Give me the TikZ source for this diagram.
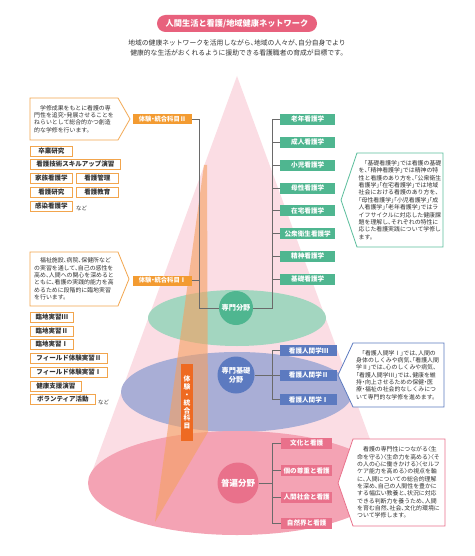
\documentclass[tikz,border=0pt]{standalone}
\usepackage{fontspec}
\setmainfont{Noto Sans CJK JP}[RawFeature=+halt]
\definecolor{titlepink}{HTML}{E8617D}
\definecolor{conepink}{HTML}{FBDDE4}
\definecolor{gell}{HTML}{A3D6C0}
\definecolor{gfill}{HTML}{4FB690}
\definecolor{gline}{HTML}{5BBE9C}
\definecolor{bell}{HTML}{A9AED6}
\definecolor{bfill}{HTML}{5C7AC0}
\definecolor{pell}{HTML}{F4A3B4}
\definecolor{pfill}{HTML}{E9718B}
\definecolor{olab}{HTML}{F39B31}
\definecolor{vorange}{HTML}{EE6A22}
\definecolor{band}{HTML}{F5A060}
\definecolor{oline}{HTML}{F2A54D}
\definecolor{txtgray}{HTML}{333333}
\definecolor{conngray}{HTML}{6A6A6A}
\begin{document}
\begin{tikzpicture}[x=1pt,y=-1pt,
  titlepill/.style={fill=titlepink,rounded corners=8.5pt,minimum width=160pt,minimum height=17pt,inner sep=0pt,text=white,font=\bfseries\fontsize{8.2}{9}\selectfont},
  subtext/.style={align=center,text=txtgray,font=\fontsize{6.8}{10}\selectfont,inner sep=0pt},
  desc/.style={align=left,text=txtgray,font=\fontsize{5.9}{7.35}\selectfont,inner sep=0pt,anchor=west},
  cbox/.style={draw=oline,line width=0.7pt,fill=white,text=txtgray,font=\bfseries\fontsize{6.5}{7}\selectfont,minimum height=10pt,inner sep=0pt,anchor=west},
  olabel/.style={fill=olab,text=white,font=\bfseries\fontsize{6.3}{7}\selectfont,minimum width=59pt,minimum height=10pt,inner sep=0pt},
  vlabel/.style={fill=vorange,text=white,font=\bfseries\fontsize{6.8}{7.9}\selectfont,minimum width=12pt,minimum height=77pt,inner sep=0pt,align=center},
  lbox/.style={text=white,font=\bfseries\fontsize{6.6}{7}\selectfont,minimum height=11pt,inner sep=0pt,anchor=west},
  gbox/.style={lbox,fill=gfill,minimum width=55pt},
  bbox/.style={lbox,fill=bfill,minimum width=57pt},
  pbox/.style={lbox,fill=pfill,minimum width=51pt},
  circ/.style={circle,inner sep=0pt,text=white,align=center,font=\bfseries\fontsize{7.2}{9}\selectfont},
  nado/.style={text=txtgray,font=\fontsize{5.5}{6}\selectfont,inner sep=0pt,anchor=west},
  conn/.style={draw=conngray,line width=0.8pt},
  arrowbox/.style={line width=0.8pt,fill=white}
]
\fill[white] (0,0) rectangle (474,556);
\useasboundingbox (0,0) rectangle (474,556);

% title
\node[titlepill] (title) at (237,23.5) {人間生活と看護/地域健康ネットワーク};
\node[subtext] (sub) at (237,48) {地域の健康ネットワークを活用しながら、地域の人々が、自分自身でより\\健康的な生活がおくれるように援助できる看護職者の育成が目標です。};

% cone and ellipses
\fill[conepink] (237,76) -- (88,483) -- (386,483) -- cycle;
\fill[gell] (237,318) ellipse [x radius=89pt, y radius=28pt];
\fill[bell] (237,392) ellipse [x radius=116pt, y radius=40pt];
\fill[pell] (237,483) ellipse [x radius=149pt, y radius=52pt];
% orange band
\fill[band,opacity=0.6] (204,165) -- (207,165) -- (208,432) -- (155,522) -- cycle;

% connectors
\coordinate (lx) at (199,0);
\coordinate (rx) at (272,0);

% left labels
\node[olabel] (t2) at (162.5,119) {体験・統合科目Ⅱ};
\node[olabel] (t1) at (162.5,280.5) {体験・統合科目Ⅰ};

% circles
\node[circ,fill=gfill,minimum size=34pt] (cg) at (236,308) {専門分野};
\node[circ,fill=bfill,minimum size=37pt] (cb) at (236,375) {専門基礎\\分野};
\node[circ,fill=pfill,minimum size=41pt,font=\bfseries\fontsize{8.5}{10}\selectfont] (cp) at (238,483) {普遍分野};

% green boxes
\node[gbox] (g1) at (280,119.3) {老年看護学};
\node[gbox] (g2) at (280,142.3) {成人看護学};
\node[gbox] (g3) at (280,165.1) {小児看護学};
\node[gbox] (g4) at (280,188) {母性看護学};
\node[gbox] (g5) at (280,210.8) {在宅看護学};
\node[gbox] (g6) at (280,233.5) {公衆衛生看護学};
\node[gbox] (g7) at (280,256.3) {精神看護学};
\node[gbox] (g8) at (280,279.2) {基礎看護学};

% blue boxes
\node[bbox] (b3) at (280,350.5) {看護人間学Ⅲ};
\node[bbox] (b2) at (280,375) {看護人間学Ⅱ};
\node[bbox] (b1) at (280,399.5) {看護人間学Ⅰ};

% pink boxes
\node[pbox] (p1) at (281,443) {文化と看護};
\node[pbox] (p2) at (281,470.5) {個の尊重と看護};
\node[pbox] (p3) at (281,497) {人間社会と看護};
\node[pbox] (p4) at (281,523) {自然界と看護};

\draw[conn] (t2.east) -- (t2.east -| lx) -- (cg.west -| lx) -- (cg.west);
\draw[conn] (t1.east) -- (t1.east -| lx);
\draw[conn] (cg.east) -- (cg.east -| rx) -- (g1.west -| rx) -- (g1.west);
\foreach \i in {2,...,8} {\draw[conn] (g\i.west -| rx) -- (g\i.west);}
\draw[conn] (cb.east) -- (cb.east -| rx);
\draw[conn] (b3.west) -- (b3.west -| rx) -- (b1.west -| rx) -- (b1.west);
\draw[conn] (b2.west -| rx) -- (b2.west);
\draw[conn] (cp.east) -- (cp.east -| rx);
\draw[conn] (p1.west) -- (p1.west -| rx) -- (p4.west -| rx) -- (p4.west);
\draw[conn] (p2.west -| rx) -- (p2.west);
\draw[conn] (p3.west -| rx) -- (p3.west);

% vertical label
\node[vlabel] (vl) at (187,402.5) {体\\験\\・\\統\\合\\科\\目};

% left description boxes
\draw[arrowbox,draw=oline] (30,98) -- (118,98) -- (130,119) -- (118,140) -- (30,140) -- cycle;
\node[desc] (d1) at (34,119) {\hspace*{1em}学修成果をもとに看護の専\\門性を追究・発展させることを\\ねらいとして総合的かつ創造\\的な学修を行います。};
\draw[arrowbox,draw=oline] (30,252) -- (118,252) -- (129,279) -- (118,306) -- (30,306) -- cycle;
\node[desc] (d2) at (34,279) {\hspace*{1em}福祉施設、病院、保健所など\\の実習を通して、自己の感性を\\高め、人間への関心を深めると\\ともに、看護の実践的能力を高\\めるために段階的に臨地実習\\を行います。};

% left course boxes
\node[cbox,minimum width=42pt] (k1) at (30,151) {卒業研究};
\node[cbox,minimum width=90pt] (k2) at (30,164.5) {看護技術スキルアップ演習};
\node[cbox,minimum width=42pt] (k3) at (30,178) {家族看護学};
\node[cbox,minimum width=42pt] (k4) at (76,178) {看護管理};
\node[cbox,minimum width=42pt] (k5) at (30,192) {看護研究};
\node[cbox,minimum width=42pt] (k6) at (76,192) {看護教育};
\node[cbox,minimum width=42pt] (k7) at (30,206) {感染看護学};
\node[nado] (n1) at (76,208) {など};

\node[cbox,minimum width=43pt] (r1) at (30,317) {臨地実習Ⅲ};
\node[cbox,minimum width=43pt] (r2) at (30,331) {臨地実習Ⅱ};
\node[cbox,minimum width=43pt] (r3) at (30,344.5) {臨地実習Ⅰ};
\node[cbox,minimum width=77pt] (r4) at (30,358) {フィールド体験実習Ⅱ};
\node[cbox,minimum width=77pt] (r5) at (30,372) {フィールド体験実習Ⅰ};
\node[cbox,minimum width=51pt] (r6) at (30,386) {健康支援演習};
\node[cbox,minimum width=65pt] (r7) at (30,399.5) {ボランティア活動};
\node[nado] (n2) at (98,402) {など};

% right description boxes
\draw[arrowbox,draw=gline] (357,153) -- (443,153) -- (443,247) -- (357,247) -- (341,200) -- cycle;
\node[desc] (dg) at (358.5,200) {\hspace*{1em}「基礎看護学」では看護の基礎\\を、「精神看護学」では精神の特\\性と看護のあり方を、「公衆衛生\\看護学」「在宅看護学」では地域\\社会における看護のあり方を、\\「母性看護学」「小児看護学」「成\\人看護学」「老年看護学」ではラ\\イフサイクルに対応した健康課\\題を理解し、それぞれの特性に\\応じた看護実践について学修し\\ます。};
\draw[arrowbox,draw=bfill] (353,343) -- (444,343) -- (444,407) -- (353,407) -- (338,375) -- cycle;
\node[desc] (db) at (356,375) {\hspace*{1em}「看護人間学Ⅰ」では、人間の\\身体のしくみや病気、「看護人間\\学Ⅱ」では、心のしくみや病気、\\「看護人間学Ⅲ」では、健康を維\\持・向上させるための保健・医\\療・福祉の社会的なしくみにつ\\いて専門的な学修を進めます。};
\draw[arrowbox,draw=pfill] (353,439) -- (445,439) -- (445,526) -- (353,526) -- (338,483) -- cycle;
\node[desc] (dp) at (357,482.5) {\hspace*{1em}看護の専門性につながる〈生\\命を守る〉〈生命力を高める〉〈そ\\の人の心に働きかける〉〈セルフ\\ケア能力を高める〉の視点を軸\\に、人間についての総合的理解\\を深め、自己の人間性を豊かに\\する幅広い教養と、状況に対応\\できる判断力を養うため、人間\\を育む自然、社会、文化的環境に\\ついて学修します。};
\end{tikzpicture}
\end{document}
